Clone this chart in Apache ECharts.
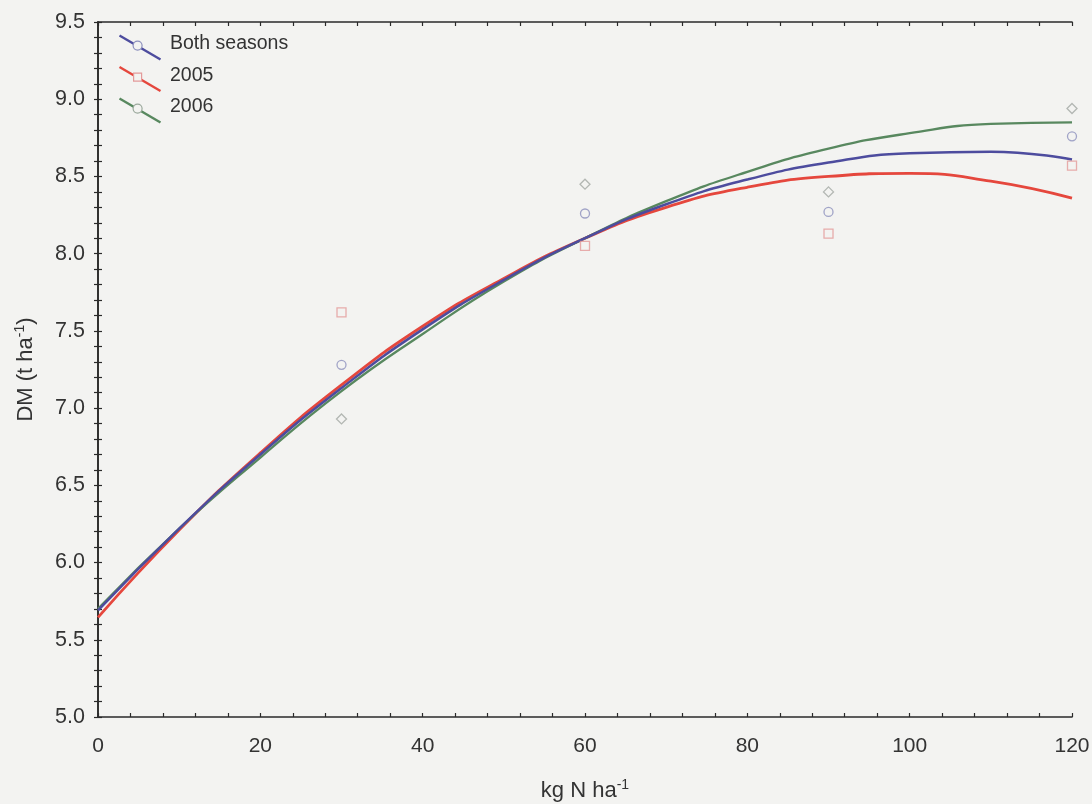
<!DOCTYPE html>
<html>
<head>
<meta charset="utf-8">
<script src="https://cdn.jsdelivr.net/npm/echarts@6/dist/echarts.min.js"></script>
<style>
  html, body { margin: 0; padding: 0; background: #f3f3f1; }
  #chart { width: 1092px; height: 804px; }
</style>
</head>
<body>
<div id="chart"></div>
<script>
// ---- data ----
const curveX = [0, 10, 20, 30, 40, 50, 60, 70, 80, 90, 100, 110, 120];
const curveBoth = [5.69, 6.22, 6.70, 7.13, 7.51, 7.83, 8.10, 8.32, 8.48, 8.59, 8.65, 8.66, 8.61];
const curve2005 = [5.645, 6.21, 6.71, 7.15, 7.53, 7.84, 8.10, 8.30, 8.43, 8.50, 8.52, 8.47, 8.36];
const curve2006 = [5.70, 6.22, 6.68, 7.11, 7.48, 7.82, 8.10, 8.34, 8.53, 8.68, 8.78, 8.84, 8.85];

const pointX = [30, 60, 90, 120];
const pointsBoth = [7.28, 8.26, 8.27, 8.76];
const points2005 = [7.62, 8.05, 8.13, 8.57];
const points2006 = [6.93, 8.45, 8.40, 8.94];

const legendNames = ['Both seasons', '2005', '2006'];

const colBoth = '#4d4c9e';
const col2005 = '#e5473d';
const col2006 = '#58885f';
const textCol = '#333333';
const bg = '#f3f3f1';
const font = 'Liberation Sans, Arial, sans-serif';

function pairs(xs, ys) { return xs.map((x, i) => [x, ys[i]]); }

const chart = echarts.init(document.getElementById('chart'));

const axisCommon = {
  axisLine: { show: true, lineStyle: { color: '#2a2a2a', width: 1.6 } },
  axisTick: { show: true, inside: true, length: 4, lineStyle: { color: '#2a2a2a', width: 1.2 } },
  minorTick: { show: true, splitNumber: 5, length: 4, lineStyle: { color: '#2a2a2a', width: 1.2 } },
  splitLine: { show: false },
  minorSplitLine: { show: false }
};

// legend drawn as graphic (diagonal line samples)
const legendGraphics = [];
const legendCols = [colBoth, col2005, col2006];
const legendMarkCols = ['#8c90bd', '#e39a9a', '#9aa89c'];
legendNames.forEach((name, i) => {
  const y0 = 33 + i * 31.5;
  legendGraphics.push({
    type: 'line', left: 117, top: y0,
    shape: { x1: 0, y1: 0, x2: 41, y2: 24 },
    style: { stroke: legendCols[i], lineWidth: 2.4 }, z: 100
  });
  if (i === 1) {
    legendGraphics.push({
      type: 'rect', left: 133, top: y0 + 8,
      shape: { x: 0, y: 0, width: 8, height: 8 },
      style: { fill: bg, stroke: legendMarkCols[i], lineWidth: 1.2 }, z: 101
    });
  } else {
    legendGraphics.push({
      type: 'circle', left: 132.5, top: y0 + 7.5,
      shape: { cx: 0, cy: 0, r: 4.5 },
      style: { fill: bg, stroke: legendMarkCols[i], lineWidth: 1.2 }, z: 101
    });
  }
  legendGraphics.push({
    type: 'text', left: 170, top: y0 + 1,
    style: { text: name, fill: textCol, font: '19.5px ' + font }, z: 101
  });
});

const richTitle = {
  n: { fontSize: 22, fontFamily: font, color: textCol },
  s: { fontSize: 14, fontFamily: font, color: textCol, padding: [0, 0, 11, 0] }
};

const option = {
  backgroundColor: bg,
  animation: false,
  grid: { left: 98, right: 20, top: 22, bottom: 87, containLabel: false, outerBoundsMode: 'none' },
  xAxis: [
    Object.assign({}, axisCommon, {
      type: 'value', min: 0, max: 120, interval: 20, position: 'bottom',
      axisLabel: { color: textCol, fontSize: 21, fontFamily: font, margin: 19 },
      name: '{n|kg N ha}{s|-1}', nameLocation: 'middle', nameGap: 61,
      nameTextStyle: { color: textCol, fontFamily: font, rich: richTitle }
    }),
    Object.assign({}, axisCommon, {
      type: 'value', min: 0, max: 120, interval: 20, position: 'top',
      axisLabel: { show: false }
    })
  ],
  yAxis: [
    Object.assign({}, axisCommon, {
      type: 'value', min: 5, max: 9.5, interval: 0.5, position: 'left',
      axisLabel: {
        color: textCol, fontSize: 21.5, fontFamily: font, margin: 13,
        formatter: v => v.toFixed(1)
      },
      name: '{n|DM (t ha}{s|-1}{n|)}', nameLocation: 'middle', nameGap: 60, nameRotate: 90,
      nameTextStyle: { color: textCol, fontFamily: font, rich: richTitle }
    }),
    Object.assign({}, axisCommon, {
      type: 'value', min: 5, max: 9.5, interval: 0.5, position: 'right',
      axisLabel: { show: false }
    })
  ],
  graphic: legendGraphics,
  series: [
    {
      name: '2005 fit', type: 'line', smooth: true, showSymbol: false,
      data: pairs(curveX, curve2005),
      lineStyle: { color: col2005, width: 2.8 }, z: 3
    },
    {
      name: '2006 fit', type: 'line', smooth: true, showSymbol: false,
      data: pairs(curveX, curve2006),
      lineStyle: { color: col2006, width: 2.3 }, z: 3
    },
    {
      name: 'Both fit', type: 'line', smooth: true, showSymbol: false,
      data: pairs(curveX, curveBoth),
      lineStyle: { color: colBoth, width: 2.5 }, z: 4
    },
    {
      name: legendNames[0], type: 'scatter', symbol: 'circle', symbolSize: 9,
      data: pairs(pointX, pointsBoth),
      itemStyle: { color: 'rgba(0,0,0,0)', borderColor: '#8c90bd', borderWidth: 1.3 }, z: 5
    },
    {
      name: legendNames[1], type: 'scatter', symbol: 'rect', symbolSize: 9,
      data: pairs(pointX, points2005),
      itemStyle: { color: 'rgba(0,0,0,0)', borderColor: '#e39a9a', borderWidth: 1.3 }, z: 5
    },
    {
      name: legendNames[2], type: 'scatter', symbol: 'diamond', symbolSize: 10,
      data: pairs(pointX, points2006),
      itemStyle: { color: 'rgba(0,0,0,0)', borderColor: '#a2a8a2', borderWidth: 1.3 }, z: 5
    }
  ]
};

chart.setOption(option);
</script>
</body>
</html>
